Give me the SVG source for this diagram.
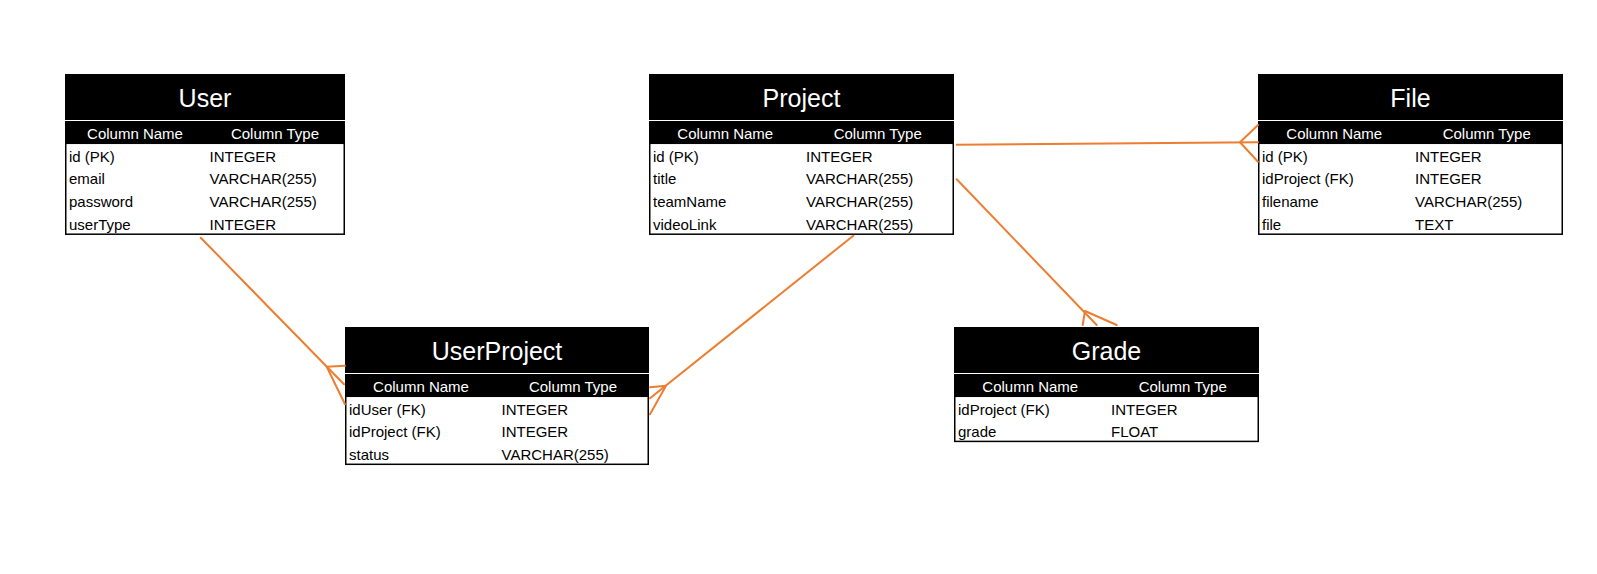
<svg xmlns="http://www.w3.org/2000/svg" width="1597" height="574" viewBox="0 0 1597 574">
<style>
  text { font-family: "Liberation Sans", Arial, sans-serif; }
  .band { fill: #000; }
  .sep { stroke: #fff; stroke-width: 1.2; }
  .body { fill: #fff; stroke: #000; stroke-width: 1.5; }
  .title { fill: #fff; font-size: 25px; text-anchor: middle; }
  .hdr { fill: #fff; font-size: 15px; text-anchor: middle; }
  .cell { fill: #000; font-size: 15px; }
  .conn { fill: none; stroke: #ED7D31; stroke-width: 2; stroke-linecap: round; stroke-linejoin: round; }
</style>
<rect width="1597" height="574" fill="#fff"/>

<g id="node-User" transform="translate(65,74)">
  <rect class="band" x="0" y="0" width="280" height="69.3"/>
  <line class="sep" x1="0" y1="46.5" x2="280" y2="46.5"/>
  <rect class="body" x="0.75" y="69.3" width="278.5" height="90.9"/>
  <text class="title" x="140" y="32.7">User</text>
  <text class="hdr" x="70" y="64.5">Column Name</text>
  <text class="hdr" x="210" y="64.5">Column Type</text>
  <text class="cell" x="4" y="87.5">id (PK)</text><text class="cell" x="144.5" y="87.5">INTEGER</text>
  <text class="cell" x="4" y="110.4">email</text><text class="cell" x="144.5" y="110.4">VARCHAR(255)</text>
  <text class="cell" x="4" y="133.3">password</text><text class="cell" x="144.5" y="133.3">VARCHAR(255)</text>
  <text class="cell" x="4" y="156.2">userType</text><text class="cell" x="144.5" y="156.2">INTEGER</text>
</g>

<g id="node-Project" transform="translate(649,74)">
  <rect class="band" x="0" y="0" width="305" height="69.3"/>
  <line class="sep" x1="0" y1="46.5" x2="305" y2="46.5"/>
  <rect class="body" x="0.75" y="69.3" width="303.5" height="90.9"/>
  <text class="title" x="152.5" y="32.7">Project</text>
  <text class="hdr" x="76.25" y="64.5">Column Name</text>
  <text class="hdr" x="228.75" y="64.5">Column Type</text>
  <text class="cell" x="4" y="87.5">id (PK)</text><text class="cell" x="157" y="87.5">INTEGER</text>
  <text class="cell" x="4" y="110.4">title</text><text class="cell" x="157" y="110.4">VARCHAR(255)</text>
  <text class="cell" x="4" y="133.3">teamName</text><text class="cell" x="157" y="133.3">VARCHAR(255)</text>
  <text class="cell" x="4" y="156.2">videoLink</text><text class="cell" x="157" y="156.2">VARCHAR(255)</text>
</g>

<g id="node-File" transform="translate(1258,74)">
  <rect class="band" x="0" y="0" width="305" height="69.3"/>
  <line class="sep" x1="0" y1="46.5" x2="305" y2="46.5"/>
  <rect class="body" x="0.75" y="69.3" width="303.5" height="90.9"/>
  <text class="title" x="152.5" y="32.7">File</text>
  <text class="hdr" x="76.25" y="64.5">Column Name</text>
  <text class="hdr" x="228.75" y="64.5">Column Type</text>
  <text class="cell" x="4" y="87.5">id (PK)</text><text class="cell" x="157" y="87.5">INTEGER</text>
  <text class="cell" x="4" y="110.4">idProject (FK)</text><text class="cell" x="157" y="110.4">INTEGER</text>
  <text class="cell" x="4" y="133.3">filename</text><text class="cell" x="157" y="133.3">VARCHAR(255)</text>
  <text class="cell" x="4" y="156.2">file</text><text class="cell" x="157" y="156.2">TEXT</text>
</g>

<g id="node-UserProject" transform="translate(345,327)">
  <rect class="band" x="0" y="0" width="304" height="69.3"/>
  <line class="sep" x1="0" y1="46.5" x2="304" y2="46.5"/>
  <rect class="body" x="0.75" y="69.3" width="302.5" height="68"/>
  <text class="title" x="152" y="32.7">UserProject</text>
  <text class="hdr" x="76" y="64.5">Column Name</text>
  <text class="hdr" x="228" y="64.5">Column Type</text>
  <text class="cell" x="4" y="87.5">idUser (FK)</text><text class="cell" x="156.5" y="87.5">INTEGER</text>
  <text class="cell" x="4" y="110.4">idProject (FK)</text><text class="cell" x="156.5" y="110.4">INTEGER</text>
  <text class="cell" x="4" y="133.3">status</text><text class="cell" x="156.5" y="133.3">VARCHAR(255)</text>
</g>

<g id="node-Grade" transform="translate(954,327)">
  <rect class="band" x="0" y="0" width="305" height="69.3"/>
  <line class="sep" x1="0" y1="46.5" x2="305" y2="46.5"/>
  <rect class="body" x="0.75" y="69.3" width="303.5" height="45.1"/>
  <text class="title" x="152.5" y="32.7">Grade</text>
  <text class="hdr" x="76.25" y="64.5">Column Name</text>
  <text class="hdr" x="228.75" y="64.5">Column Type</text>
  <text class="cell" x="4" y="87.5">idProject (FK)</text><text class="cell" x="157" y="87.5">INTEGER</text>
  <text class="cell" x="4" y="110.4">grade</text><text class="cell" x="157" y="110.4">FLOAT</text>
</g>

<g id="connectors">
  <g id="conn-User-UserProject">
    <line class="conn" x1="200.7" y1="237.7" x2="344" y2="384.3"/>
    <polyline class="conn" points="345,365.7 326.7,366.7 345,404.3"/>
  </g>
  <g id="conn-Project-UserProject">
    <line class="conn" x1="853.3" y1="235.7" x2="650" y2="398.3"/>
    <polyline class="conn" points="650,387.3 666,385.7 650,414.3"/>
  </g>
  <g id="conn-Project-File">
    <line class="conn" x1="956.7" y1="144.7" x2="1258" y2="142.3"/>
    <polyline class="conn" points="1258,125 1240,142.3 1258,161.7"/>
  </g>
  <g id="conn-Project-Grade">
    <line class="conn" x1="956.7" y1="179.3" x2="1096.7" y2="325"/>
    <polyline class="conn" points="1082.7,325 1085,311 1116.7,325"/>
  </g>
</g>
</svg>
